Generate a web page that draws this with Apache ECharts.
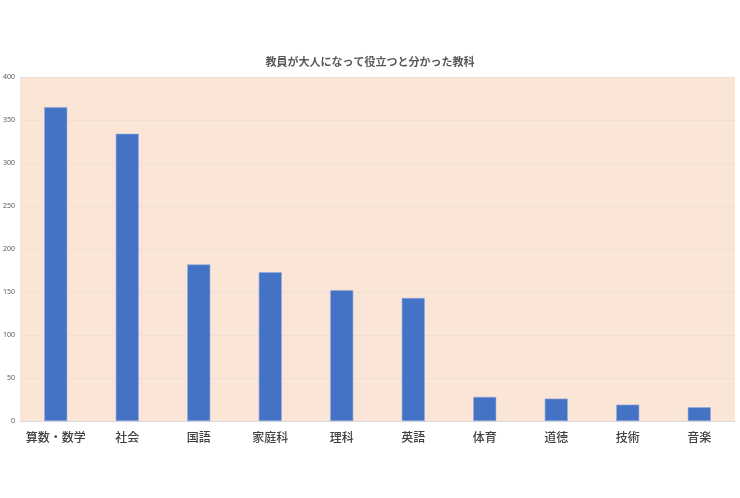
<!DOCTYPE html>
<html><head><meta charset="utf-8">
<script src="https://cdn.jsdelivr.net/npm/echarts@6/dist/echarts.min.js"></script>
<style>html,body{margin:0;padding:0;background:#fff}#c{width:740px;height:498px}</style>
</head><body><div id="c"></div>
<script>
const categories = ['算数・数学','社会','国語','家庭科','理科','英語','体育','道徳','技術','音楽'];
const values = [365, 334, 182, 173, 152, 143, 28, 26, 19, 16];
const yTicks = {min: 0, max: 400, interval: 50};
const chart = echarts.init(document.getElementById('c'));
chart.setOption({
  animation: false,
  title: {text: '教員が大人になって役立つと分かった教科', left: 'center', top: 51,
    textStyle: {fontSize: 11, fontWeight: 'bold', color: '#595959', fontFamily: 'Noto Sans CJK JP'}},
  grid: {left: 18, right: 5, top: 77, bottom: 77, backgroundColor: '#FBE5D6', show: true, borderWidth: 0},
  xAxis: {type: 'category', data: categories,
    axisLine: {lineStyle: {color: '#D9D9D9'}}, axisTick: {show: false},
    axisLabel: {interval: 0, fontSize: 12, fontWeight: 500, color: '#404040', margin: 10, fontFamily: 'Noto Sans CJK JP'}},
  yAxis: {type: 'value', min: yTicks.min, max: yTicks.max, interval: yTicks.interval,
    axisLine: {show: false}, axisTick: {show: false},
    axisLabel: {fontSize: 7, color: '#595959', margin: 5, fontFamily: 'Noto Sans'},
    splitLine: {lineStyle: {color: '#EDDFD6', width: 1}}},
  series: [{type: 'bar', data: values, barWidth: 23,
    itemStyle: {color: '#4472C4', borderColor: '#8FAADC', borderWidth: 0.6}}]
});
</script></body></html>
